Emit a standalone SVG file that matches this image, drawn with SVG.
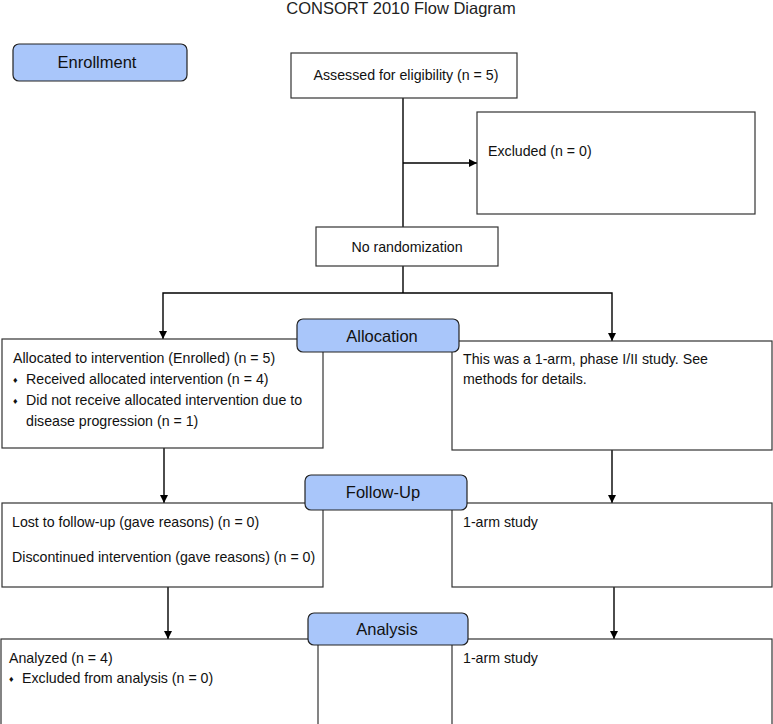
<svg xmlns="http://www.w3.org/2000/svg" width="773" height="724" viewBox="0 0 773 724">
<defs>
<marker id="ah" viewBox="0 0 10 10" refX="10" refY="5" markerWidth="8" markerHeight="9" markerUnits="userSpaceOnUse" orient="auto">
<path d="M0,0 L10,5 L0,10 Z" fill="#000"/>
</marker>
<style>
.box{fill:#fff;stroke:#333;stroke-width:1.2}
.stage{fill:#a9c6fa;stroke:#222;stroke-width:1.2}
.t{font-family:"Liberation Sans",Arial,sans-serif;font-size:14.2px;fill:#111}
.d{font-family:"Liberation Sans",Arial,sans-serif;font-size:9px;fill:#111}
.st{font-family:"Liberation Sans",Arial,sans-serif;font-size:16.5px;fill:#111;text-anchor:middle}
.c{fill:none;stroke:#000;stroke-width:1.4}
.ca{fill:none;stroke:#000;stroke-width:1.4;marker-end:url(#ah)}
</style>
</defs>
<rect width="773" height="724" fill="#fff"/>
<text x="401" y="14" text-anchor="middle" style="font-family:'Liberation Sans',Arial,sans-serif;font-size:16.5px;fill:#222">CONSORT 2010 Flow Diagram</text>

<g id="connectors">
<line class="c" x1="403" y1="98" x2="403" y2="227"/>
<line class="ca" x1="403" y1="163" x2="477" y2="163"/>
<polyline class="c" points="403,266 403,293"/>
<polyline class="ca" points="403,293 163,293 163,339"/>
<polyline class="ca" points="403,293 612,293 612,341"/>
<line class="ca" x1="164" y1="448" x2="164" y2="503"/>
<line class="ca" x1="612" y1="450" x2="612" y2="503"/>
<line class="ca" x1="168" y1="587" x2="168" y2="639"/>
<line class="ca" x1="614" y1="587" x2="614" y2="639"/>
</g>

<g id="enrollment">
<rect class="stage" x="13" y="44" width="174" height="37" rx="6"/>
<text class="st" x="97" y="68">Enrollment</text>
</g>
<g id="assessed">
<rect class="box" x="291" y="53" width="226" height="45"/>
<text class="t" x="406" y="80" text-anchor="middle">Assessed for eligibility (n = 5)</text>
</g>
<g id="excluded">
<rect class="box" x="477" y="112" width="278" height="102"/>
<text class="t" x="488" y="156">Excluded (n = 0)</text>
</g>
<g id="no-randomization">
<rect class="box" x="316" y="227" width="182" height="39"/>
<text class="t" x="407" y="252" text-anchor="middle">No randomization</text>
</g>

<g id="allocated-left">
<rect class="box" x="2" y="339" width="321" height="109"/>
<text class="t" x="13" y="363">Allocated to intervention (Enrolled) (n = 5)</text>
<text class="d" x="13" y="383">♦</text>
<text class="t" x="26" y="384">Received allocated intervention (n = 4)</text>
<text class="d" x="13" y="404">♦</text>
<text class="t" x="26" y="405">Did not receive allocated intervention due to</text>
<text class="t" x="26" y="426">disease progression (n = 1)</text>
</g>
<g id="allocated-right">
<rect class="box" x="452" y="341" width="320" height="109"/>
<text class="t" x="463" y="364">This was a 1-arm, phase I/II study. See</text>
<text class="t" x="463" y="384">methods for details.</text>
</g>
<g id="allocation">
<rect class="stage" x="297" y="319" width="162" height="33" rx="6"/>
<text class="st" x="382" y="342">Allocation</text>
</g>

<g id="followup-left">
<rect class="box" x="2" y="503" width="321" height="84"/>
<text class="t" x="12" y="527">Lost to follow-up (gave reasons) (n = 0)</text>
<text class="t" x="12" y="562">Discontinued intervention (gave reasons) (n = 0)</text>
</g>
<g id="followup-right">
<rect class="box" x="452" y="503" width="320" height="84"/>
<text class="t" x="463" y="527">1-arm study</text>
</g>
<g id="follow-up">
<rect class="stage" x="305" y="475" width="162" height="35" rx="6"/>
<text class="st" x="383" y="498">Follow-Up</text>
</g>

<g id="analysis-left">
<rect class="box" x="1" y="639" width="317" height="90"/>
<text class="t" x="9" y="663">Analyzed (n = 4)</text>
<text class="d" x="9" y="682">♦</text>
<text class="t" x="22" y="683">Excluded from analysis (n = 0)</text>
</g>
<g id="analysis-right">
<rect class="box" x="452" y="639" width="320" height="90"/>
<text class="t" x="463" y="663">1-arm study</text>
</g>
<g id="analysis">
<rect class="stage" x="308" y="613" width="160" height="32" rx="6"/>
<text class="st" x="387" y="635">Analysis</text>
</g>
</svg>
